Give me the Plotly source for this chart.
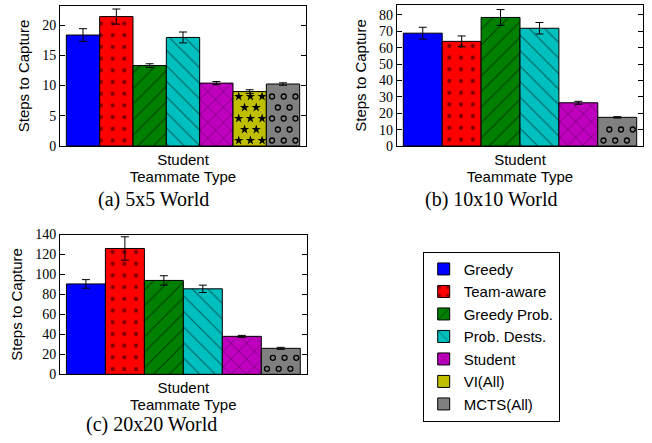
import plotly.graph_objects as go

FIG_W, FIG_H = 652, 443

# ---------------- data ----------------
teammates_5 = ["Greedy", "Team-aware", "Greedy Prob.", "Prob. Dests.", "Student", "VI(All)", "MCTS(All)"]
steps_5 = [18.35, 21.4, 13.3, 17.95, 10.4, 9.0, 10.25]
err_5 = [1.05, 1.25, 0.3, 0.9, 0.25, 0.3, 0.2]

teammates_10 = ["Greedy", "Team-aware", "Greedy Prob.", "Prob. Dests.", "Student", "MCTS(All)"]
steps_10 = [68.9, 63.9, 78.5, 71.9, 26.4, 17.5]
err_10 = [3.6, 3.3, 4.8, 3.5, 0.9, 0.4]

teammates_20 = ["Greedy", "Team-aware", "Greedy Prob.", "Prob. Dests.", "Student", "MCTS(All)"]
steps_20 = [90.5, 126.0, 94.0, 85.6, 38.0, 26.0]
err_20 = [4.3, 11.7, 4.7, 3.7, 1.0, 1.0]

x_tick_label = ["Student"]
captions = ["(a) 5x5 World", "(b) 10x10 World", "(c) 20x20 World"]

# ---------------- styles ----------------
style = {
    "Greedy": dict(color="#0000ff", shape="", overlay=None),
    "Team-aware": dict(color="#ff0000", shape=".", overlay=None),
    "Greedy Prob.": dict(color="#008000", shape="/", overlay=None),
    "Prob. Dests.": dict(color="#00bfbf", shape="\\", overlay=None),
    "Student": dict(color="#bf00bf", shape="x", overlay=None),
    "VI(All)": dict(color="#bfbf00", shape="", overlay=("star", 7, 0)),
    "MCTS(All)": dict(color="#808080", shape="", overlay=("circle-open", 5, 1.3)),
}

# subplot geometry (pixels from top-left) and axis ranges
panels = [
    dict(names=teammates_5, vals=steps_5, errs=err_5, xpx=(60, 306), ypx=(6, 146),
         xr=(-0.69, 6.69), yr=(0, 23.15), dtick=5, cap=captions[0], cap_xy=(153, 200)),
    dict(names=teammates_10, vals=steps_10, errs=err_10, xpx=(396.7, 643.3), ypx=(5, 146),
         xr=(-0.67, 5.67), yr=(0, 86.1), dtick=10, cap=captions[1], cap_xy=(491, 200)),
    dict(names=teammates_20, vals=steps_20, errs=err_20, xpx=(60, 306.7), ypx=(234.5, 374.3),
         xr=(-0.665, 5.665), yr=(0, 140), dtick=20, cap=captions[2], cap_xy=(151, 424)),
]

SANS = "Liberation Sans"
SERIF = "Liberation Serif"


def hatch_points(idx, val, p):
    ux = (p["xpx"][1] - p["xpx"][0]) / (p["xr"][1] - p["xr"][0])
    uy = (p["ypx"][1] - p["ypx"][0]) / (p["yr"][1] - p["yr"][0])
    dx, dy, x0, y0 = 11.7, 11.0, 5.7, 5.5
    bar_w = ux * 1.0
    bar_h = val * uy
    xs, ys = [], []
    k = 0
    while y0 + k * dy < bar_h - 2.5:
        off = x0 + (dx / 2 if k % 2 else 0)
        j = 0
        while off + j * dx < bar_w - 2.5:
            xs.append(idx - 0.5 + (off + j * dx) / ux)
            ys.append((y0 + k * dy) / uy)
            j += 1
        k += 1
    return xs, ys


fig = go.Figure()
layout = {}
for n, p in enumerate(panels):
    sfx = "" if n == 0 else str(n + 1)
    xa, ya = "x" + sfx, "y" + sfx
    for i, (name, v, e) in enumerate(zip(p["names"], p["vals"], p["errs"])):
        st = style[name]
        fig.add_trace(go.Bar(
            x=[i], y=[v], width=1, name=name, showlegend=(n == 0),
            xaxis=xa, yaxis=ya,
            marker=dict(color=st["color"], line=dict(color="black", width=1),
                        pattern=dict(shape=st["shape"], fgcolor="black", size=11 if st["shape"] != "." else 11.7,
                                     solidity=0.1)),
            error_y=dict(type="data", array=[e], color="black", thickness=1, width=4),
        ))
        if st["overlay"]:
            sym, sz, lw = st["overlay"]
            hx, hy = hatch_points(i, v, p)
            fig.add_trace(go.Scatter(
                x=hx, y=hy, mode="markers", showlegend=False, hoverinfo="skip",
                xaxis=xa, yaxis=ya,
                marker=dict(symbol=sym, size=sz, color="black", line=dict(color="black", width=lw)),
            ))
    n_bars = len(p["names"])
    layout["xaxis" + sfx] = dict(
        domain=[p["xpx"][0] / FIG_W, p["xpx"][1] / FIG_W], range=list(p["xr"]),
        anchor=ya, showline=True, mirror=True, linecolor="black", linewidth=1,
        showgrid=False, zeroline=False, ticks="", automargin=False,
        tickvals=[(n_bars - 1) / 2], ticktext=x_tick_label,
        tickfont=dict(family=SANS, size=15, color="black"),
        title=dict(text="Teammate Type", font=dict(family=SANS, size=15, color="black"), standoff=0),
    )
    layout["yaxis" + sfx] = dict(
        domain=[(FIG_H - p["ypx"][1]) / FIG_H, (FIG_H - p["ypx"][0]) / FIG_H], range=list(p["yr"]),
        anchor=xa, showline=True, mirror="ticks", linecolor="black", linewidth=1,
        showgrid=False, zeroline=False, ticks="inside", ticklen=5, tickcolor="black",
        dtick=p["dtick"], tick0=0, automargin=False,
        tickfont=dict(family=SERIF, size=14, color="black"),
        title=dict(text="Steps to Capture", font=dict(family=SANS, size=15, color="black"), standoff=8),
    )

annotations = []
for p in panels:
    cx, cy = p["cap_xy"]
    annotations.append(dict(
        text=p["cap"], x=cx / FIG_W, y=(FIG_H - cy) / FIG_H, xref="paper", yref="paper",
        showarrow=False, xanchor="center", yanchor="middle",
        font=dict(family=SERIF, size=20, color="black"),
    ))

fig.update_layout(
    width=FIG_W, height=FIG_H, margin=dict(l=0, r=0, t=0, b=0, pad=0, autoexpand=False),
    paper_bgcolor="white", plot_bgcolor="white",
    barmode="overlay", showlegend=True,
    legend=dict(x=422.7 / FIG_W, y=(FIG_H - 251.7) / FIG_H, xanchor="left", yanchor="top",
                bordercolor="black", borderwidth=1, bgcolor="white", tracegroupgap=0,
                font=dict(family=SANS, size=15, color="black")),
    annotations=annotations,
    **layout,
)

fig.write_html("out.html", config={"displayModeBar": False},
               post_script="document.body.style.margin='0';document.body.style.padding='0';")
